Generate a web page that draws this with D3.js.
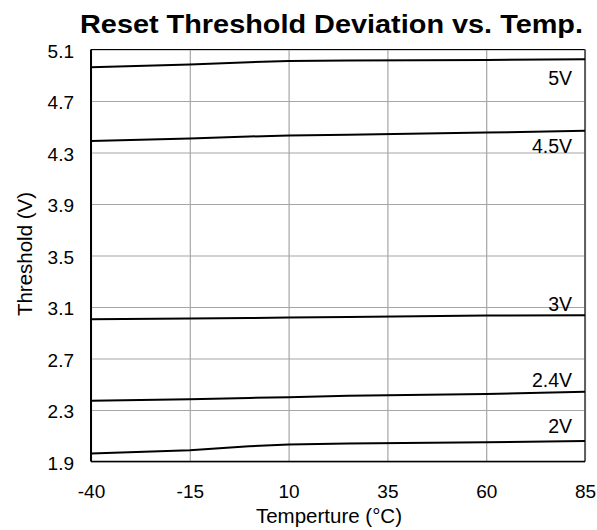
<!DOCTYPE html>
<html>
<head>
<meta charset="utf-8">
<script src="https://cdn.jsdelivr.net/npm/d3@7"></script>
<style>
  body { margin: 0; background: #fff; }
  svg { display: block; font-family: "Liberation Sans", Arial, sans-serif; }
</style>
</head>
<body>
<div id="chart"></div>
<script>
// temperatures (°C) where the curves were read
const temps = [-40, -15, 0, 10, 25, 60, 85];

// threshold values (V) for each supply setting
const v5 = [4.963, 4.983, 5.001, 5.011, 5.015, 5.019, 5.025];
const v45 = [4.390, 4.409, 4.424, 4.432, 4.437, 4.455, 4.468];
const v3 = [3.005, 3.011, 3.015, 3.018, 3.023, 3.034, 3.036];
const v24 = [2.371, 2.384, 2.394, 2.399, 2.410, 2.425, 2.441];
const v2 = [1.962, 1.988, 2.019, 2.032, 2.040, 2.050, 2.060];

const seriesNames = ["5V", "4.5V", "3V", "2.4V", "2V"];
const seriesValues = [v5, v45, v3, v24, v2];

const xTicks = [-40, -15, 10, 35, 60, 85];
const yTicks = [1.9, 2.3, 2.7, 3.1, 3.5, 3.9, 4.3, 4.7, 5.1];

// set the dimensions and margins of the graph
const margin = {top: 49.5, right: 12, bottom: 68.5, left: 91};
const width = 597 - margin.left - margin.right;
const height = 530 - margin.top - margin.bottom;

const svg = d3.select("#chart")
  .append("svg")
    .attr("width", 597)
    .attr("height", 530);

const g = svg.append("g")
    .attr("transform", `translate(${margin.left},${margin.top})`);

const x = d3.scaleLinear()
  .domain([-40, 85])
  .range([0, width]);

const y = d3.scaleLinear()
  .domain([1.9, 5.1])
  .range([height, 0]);

// grid lines
g.append("g")
  .attr("class", "grid")
  .call(d3.axisBottom(x).tickValues(xTicks).tickSize(height).tickFormat(""))
  .call(s => s.select(".domain").remove())
  .selectAll("line").attr("stroke", "#a6a6a6").attr("stroke-width", 1.2);

g.append("g")
  .attr("class", "grid")
  .call(d3.axisLeft(y).tickValues(yTicks).tickSize(-width).tickFormat(""))
  .call(s => s.select(".domain").remove())
  .selectAll("line").attr("stroke", "#a6a6a6").attr("stroke-width", 1.2);

// frame
g.append("line").attr("x1", 0).attr("x2", width).attr("y1", 0).attr("y2", 0)
  .attr("stroke", "#000").attr("stroke-width", 1.2);
g.append("line").attr("x1", width).attr("x2", width).attr("y1", 0).attr("y2", height)
  .attr("stroke", "#555").attr("stroke-width", 1.8);
g.append("line").attr("x1", 0).attr("x2", width).attr("y1", height).attr("y2", height)
  .attr("stroke", "#000").attr("stroke-width", 1.5);
g.append("line").attr("x1", 0).attr("x2", 0).attr("y1", 0).attr("y2", height)
  .attr("stroke", "#000").attr("stroke-width", 2);

// Y axis labels
g.append("g")
  .call(d3.axisLeft(y).tickValues(yTicks).tickSize(0).tickPadding(17).tickFormat(d3.format(".1f")))
  .call(s => s.select(".domain").remove())
  .selectAll("text")
    .attr("dy", "0.42em")
    .style("font-size", "19px")
    .style("font-family", "'Liberation Sans', Arial, sans-serif")
    .attr("fill", "#000");

// X axis labels (plain hyphen for negatives, as in the original)
g.append("g")
  .attr("transform", `translate(0,${height})`)
  .call(d3.axisBottom(x).tickValues(xTicks).tickSize(0).tickPadding(23).tickFormat(d => String(d)))
  .call(s => s.select(".domain").remove())
  .selectAll("text")
    .style("font-size", "19px")
    .style("font-family", "'Liberation Sans', Arial, sans-serif")
    .attr("fill", "#000");

// lines
const line = d3.line()
  .x((d, i) => x(temps[i]))
  .y(d => y(d));

g.selectAll(".curve")
  .data(seriesValues)
  .join("path")
    .attr("class", "curve")
    .attr("d", d => line(d))
    .attr("fill", "none")
    .attr("stroke", "#000")
    .attr("stroke-width", 2);

// series labels
const labelOffsets = [26, 22, -4.5, -5, -8];
g.selectAll(".slabel")
  .data(seriesNames)
  .join("text")
    .attr("class", "slabel")
    .attr("x", x(85) - 13)
    .attr("y", (d, i) => y(seriesValues[i][seriesValues[i].length - 1]) + labelOffsets[i])
    .attr("text-anchor", "end")
    .style("font-size", "19.5px")
    .text(d => d);

// title
svg.append("text")
  .attr("x", 331.5)
  .attr("y", 33)
  .attr("text-anchor", "middle")
  .attr("textLength", 503)
  .attr("lengthAdjust", "spacingAndGlyphs")
  .style("font-size", "26px")
  .style("font-weight", "bold")
  .text("Reset Threshold Deviation vs. Temp.");

// axis titles
svg.append("text")
  .attr("x", 329)
  .attr("y", 523)
  .attr("text-anchor", "middle")
  .style("font-size", "20.5px")
  .text("Temperture (°C)");

svg.append("text")
  .attr("transform", "translate(32,254)rotate(-90)")
  .attr("text-anchor", "middle")
  .style("font-size", "20.5px")
  .text("Threshold (V)");
</script>
</body>
</html>
